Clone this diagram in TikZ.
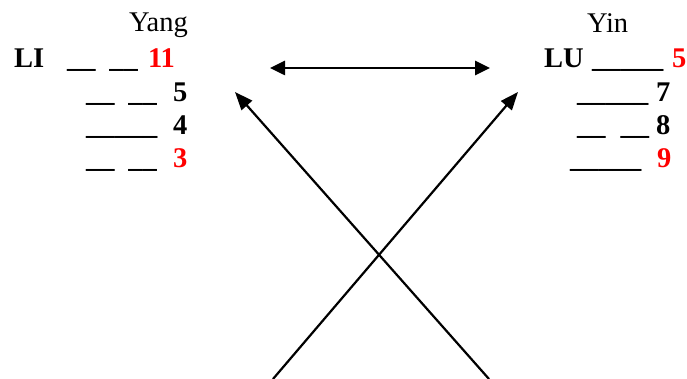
\documentclass[tikz,border=0pt]{standalone}
\usepackage{fontspec}
\setmainfont{Liberation Serif}
\usetikzlibrary{arrows.meta}
\definecolor{numred}{RGB}{255,0,0}
\tikzset{
  txt/.style={anchor=base west, inner sep=0pt, outer sep=0pt, font=\fontsize{28.5}{30}\selectfont},
  bld/.style={txt, font=\fontsize{28.5}{30}\selectfont\bfseries},
  rednum/.style={bld, text=numred},
  blknum/.style={bld, text=black},
  dbl/.style={line width=2.6pt, {Triangle[length=15pt,width=14pt]}-{Triangle[length=15pt,width=14pt]}},
  diag/.style={line width=2.2pt, -{Triangle[length=18pt,width=14pt]}}
}
\begin{document}
\begin{tikzpicture}[x=1pt,y=-1pt]
\useasboundingbox[fill=white] (0,0) rectangle (687,379);
% left column (Yang)
\node[txt] (yang) at (129,32) {Yang};
\node[bld] (li) at (14,68) {LI};
\node[bld] (ld1) at (67,68) {\_\_\hspace{14pt}\_\_};
\node[rednum] (n11) at (148,68) {11};
\node[bld] (ld2) at (86,101.5) {\_\_\hspace{14pt}\_\_};
\node[blknum] (n5l) at (173,101.5) {5};
\node[bld] (ld3) at (86,135) {\_\_\_\_\_};
\node[blknum] (n4) at (173,135) {4};
\node[bld] (ld4) at (86,168) {\_\_\hspace{14pt}\_\_};
\node[rednum] (n3) at (173,168) {3};
% right column (Yin)
\node[txt] (yin) at (587,33) {Yin};
\node[bld] (lu) at (544,68) {LU};
\node[bld] (rd1) at (592,68) {\_\_\_\_\_};
\node[rednum] (n5r) at (672,68) {5};
\node[bld] (rd2) at (577,101.5) {\_\_\_\_\_};
\node[blknum] (n7) at (656,101.5) {7};
\node[bld] (rd3) at (577,135) {\_\_\hspace{15pt}\_\_};
\node[blknum] (n8) at (656,135) {8};
\node[bld] (rd4) at (570,168) {\_\_\_\_\_};
\node[rednum] (n9) at (657,168) {9};
% connectors
\coordinate (hl) at (270,68);
\coordinate (hr) at (490,68);
\coordinate (tipL) at (235,92);
\coordinate (tipR) at (518,92);
\coordinate (botL) at (273,379);
\coordinate (botR) at (489,379);
\draw[dbl] (hl) -- (hr);
\draw[diag] (botL) -- (tipR);
\draw[diag] (botR) -- (tipL);
\end{tikzpicture}
\end{document}
